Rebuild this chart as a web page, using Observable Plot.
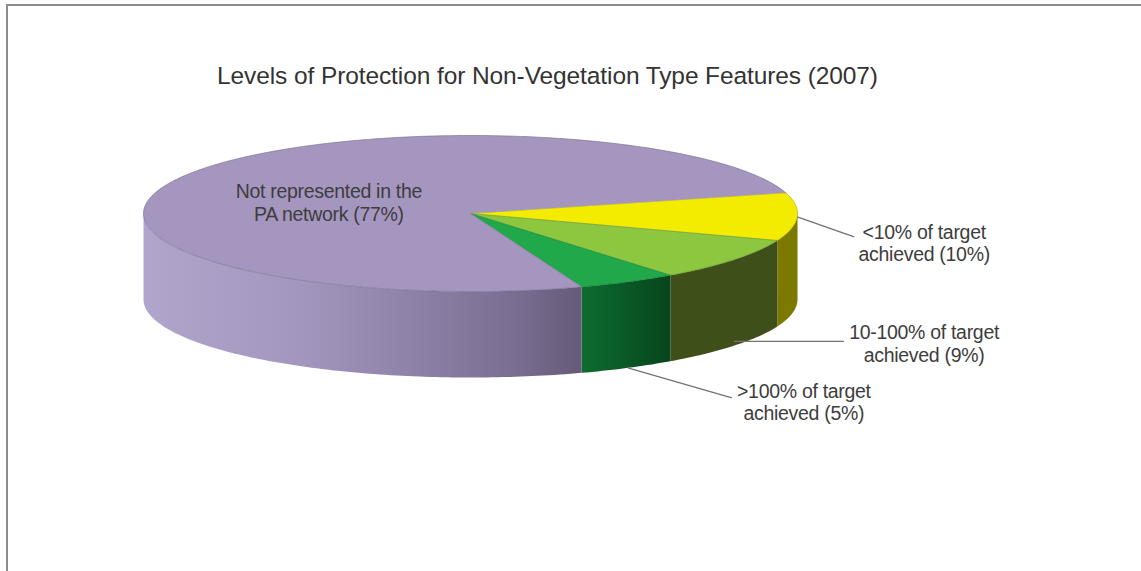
<!DOCTYPE html>
<html>
<head>
<meta charset="utf-8">
<script src="https://cdn.jsdelivr.net/npm/d3@7"></script>
<script src="https://cdn.jsdelivr.net/npm/@observablehq/plot@0.6"></script>
<style>
  html, body { margin: 0; padding: 0; background: #fff; }
  #frame {
    position: absolute; left: 6px; top: 4px; width: 1135px; height: 567px;
    border-top: 2px solid #8c8c8c; border-left: 2px solid #8c8c8c; overflow: hidden;
  }
  #title {
    width: 1079px; height: 102px; box-sizing: border-box; padding-top: 58px;
    text-align: center; font-family: "Liberation Sans", Arial, sans-serif;
    font-size: 24.5px; line-height: 24px; color: #333; white-space: nowrap; letter-spacing: -0.1px;
  }
  #chart svg text { letter-spacing: -0.3px; }
</style>
</head>
<body>
<div id="frame">
  <div id="title"></div>
  <div id="chart"></div>
</div>
<script>
// ---- data ----
const title = "Levels of Protection for Non-Vegetation Type Features (2007)";
const categories = ["<10% of target achieved", "10-100% of target achieved", ">100% of target achieved", "Not represented in the PA network"];
const values = [10, 9, 5, 77];
const labelLine1 = ["<10% of target", "10-100% of target", ">100% of target", "Not represented in the"];
const labelLine2 = ["achieved (10%)", "achieved (9%)", "achieved (5%)", "PA network (77%)"];

// ---- styles / layout ----
const topColors = ["#f3eb00", "#8dc63f", "#21a84a", "#a596c0"];
const sideColors = ["#7b7900", "#3e4f1a", "url(#gDark)", "url(#gPurple)"];
const W = 1133, H = 463;
const CX = 462, CY = 105;      // pie centre in svg px
const RX = 327;                // horizontal radius px
const TILT = 78 / 327, DEPTH = 86 / 327;
const START = -15.4 * Math.PI / 180;
// leader: depth fraction of start, offset of end (px), label centre offset from end (px)
const leaderDepth = [0, 0.95, 1, null];
const leaderOff = [[57, 20], [110, 0], [104, 30], null];
const labelOff = [[70, 6], [80, 2], [72, 4], [-11, 5]];

document.getElementById("title").textContent = title;

const rows = categories.map((c, i) => ({category: c, value: values[i], i}));
const pie = d3.pie().sort(null).value(d => d.value)
  .startAngle(START + Math.PI / 2).endAngle(START + Math.PI / 2 + 2 * Math.PI);
const arcs = pie(rows);

const pt = (phi, dz = 0) => ({x: Math.cos(phi), y: Math.sin(phi) * TILT + dz});
function arcPts(a, b, dz = 0) {
  const n = Math.max(2, Math.ceil(Math.abs(b - a) / (Math.PI / 180)));
  return d3.range(n + 1).map(k => pt(a + (b - a) * k / n, dz));
}

const marks = [];
// side faces
arcs.forEach(a => {
  const p0 = a.startAngle - Math.PI / 2, p1 = a.endAngle - Math.PI / 2;
  const s = Math.max(p0, 0), e = Math.min(p1, Math.PI);
  if (s < e) {
    const poly = [...arcPts(s, e), ...arcPts(e, s, DEPTH)];
    marks.push(Plot.line(poly, {x: "x", y: "y", fill: sideColors[a.data.i], stroke: "none"}));
  }
});
// top faces
arcs.forEach(a => {
  const p0 = a.startAngle - Math.PI / 2, p1 = a.endAngle - Math.PI / 2;
  const poly = [{x: 0, y: 0}, ...arcPts(p0, p1)];
  marks.push(Plot.line(poly, {x: "x", y: "y", fill: topColors[a.data.i],
    stroke: d3.color(topColors[a.data.i]).darker(0.8).formatHex(), strokeWidth: 0.8, strokeOpacity: 0.85}));
});
// leaders and labels
const leaders = [], labels = [];
arcs.forEach(a => {
  const i = a.data.i;
  const mid = (a.startAngle + a.endAngle) / 2 - Math.PI / 2;
  if (leaderOff[i]) {
    const s = pt(mid, DEPTH * leaderDepth[i]);
    const e = {x: s.x + leaderOff[i][0] / RX, y: s.y + leaderOff[i][1] / RX};
    leaders.push({x1: s.x, y1: s.y, x2: e.x, y2: e.y});
    labels.push({x: e.x + labelOff[i][0] / RX, y: e.y + labelOff[i][1] / RX, text: labelLine1[i] + "\n" + labelLine2[i]});
  } else {
    const c = {x: 0.45 * Math.cos(mid), y: 0.45 * Math.sin(mid) * TILT};
    labels.push({x: c.x + labelOff[i][0] / RX, y: c.y + labelOff[i][1] / RX, text: labelLine1[i] + "\n" + labelLine2[i]});
  }
});
marks.push(Plot.link(leaders, {x1: "x1", y1: "y1", x2: "x2", y2: "y2", stroke: "#737373", strokeWidth: 1.4}));
marks.push(Plot.text(labels, {x: "x", y: "y", text: "text", textAnchor: "middle", lineAnchor: "middle",
  fontSize: 19.5, lineHeight: 1.15, fill: "#3d3d3d", fontFamily: "Liberation Sans, Arial, sans-serif"}));

const svg = Plot.plot({
  width: W, height: H,
  marginTop: 0, marginRight: 0, marginBottom: 0, marginLeft: 0,
  x: {domain: [-CX / RX, (W - CX) / RX], range: [0, W], axis: null},
  y: {domain: [-CY / RX, (H - CY) / RX], range: [0, H], axis: null},
  style: {background: "transparent", overflow: "visible"},
  marks
});

const defs = d3.select(svg).insert("defs", ":first-child");
const gp = defs.append("linearGradient").attr("id", "gPurple").attr("x1", 0).attr("x2", 1).attr("y1", 0).attr("y2", 0);
[[0, "#b1a5cc"], [0.35, "#a497bf"], [0.6, "#9083a9"], [0.85, "#7a6d91"], [1, "#665a78"]]
  .forEach(([o, c]) => gp.append("stop").attr("offset", o).attr("stop-color", c));
const gd = defs.append("linearGradient").attr("id", "gDark").attr("x1", 0).attr("x2", 1).attr("y1", 0).attr("y2", 0);
[[0, "#0e6c30"], [1, "#06451c"]]
  .forEach(([o, c]) => gd.append("stop").attr("offset", o).attr("stop-color", c));

document.getElementById("chart").append(svg);
</script>
</body>
</html>
